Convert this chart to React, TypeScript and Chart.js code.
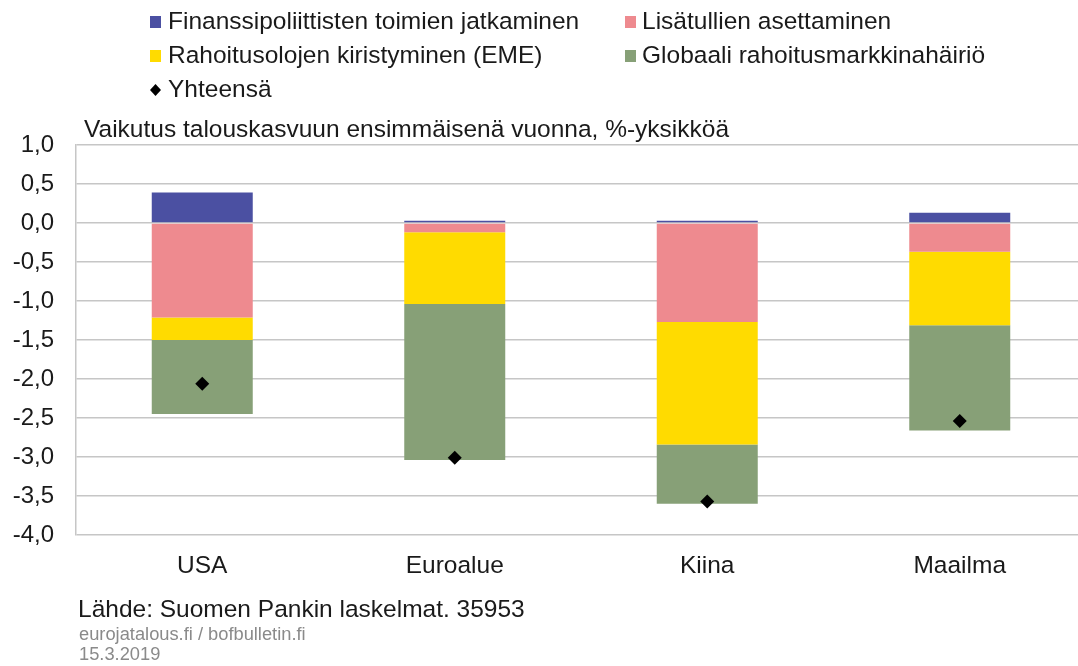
import React, { useEffect, useRef } from "react";
import { Chart, registerables } from "chart.js";

Chart.register(...registerables);

// ---- data ----
const categories = ["USA", "Euroalue", "Kiina", "Maailma"];
const fiscalPolicy = [0.39, 0.03, 0.03, 0.13];
const tariffs = [-1.21, -0.12, -1.27, -0.37];
const emeTightening = [-0.29, -0.92, -1.57, -0.94];
const globalShock = [-0.95, -2.0, -0.76, -1.35];
const totals = [-2.06, -3.01, -3.57, -2.54];

const seriesLabels = [
  "Finanssipoliittisten toimien jatkaminen",
  "Lisätullien asettaminen",
  "Rahoitusolojen kiristyminen (EME)",
  "Globaali rahoitusmarkkinahäiriö",
  "Yhteensä",
];

const subtitle = "Vaikutus talouskasvuun ensimmäisenä vuonna, %-yksikköä";
const sourceText = "Lähde: Suomen Pankin laskelmat. 35953";
const siteText = "eurojatalous.fi / bofbulletin.fi";
const dateText = "15.3.2019";

const FONT = '"Liberation Sans", Arial, Helvetica, sans-serif';
const TEXT = "#1a1a1a";
const GRID = "#c6c6c6";

const overlayPlugin = {
  id: "overlay",
  afterDraw(chart: any) {
    const ctx = chart.ctx as CanvasRenderingContext2D;
    ctx.save();
    ctx.textBaseline = "alphabetic";
    ctx.textAlign = "left";
    // legend: two columns, filled row-wise
    const markerX = [150, 625];
    const textX = [168, 642];
    const baseY = [29, 63, 97];
    chart.data.datasets.forEach((ds: any, i: number) => {
      const col = i % 2;
      const row = Math.floor(i / 2);
      const mx = markerX[col];
      const cy = baseY[row] - 7;
      if (ds.type === "line") {
        ctx.fillStyle = "#000";
        ctx.beginPath();
        ctx.moveTo(mx + 5.5, cy - 6);
        ctx.lineTo(mx + 11, cy);
        ctx.lineTo(mx + 5.5, cy + 6);
        ctx.lineTo(mx, cy);
        ctx.closePath();
        ctx.fill();
      } else {
        ctx.fillStyle = ds.backgroundColor;
        ctx.fillRect(mx, cy - 6, 11, 12);
      }
      ctx.fillStyle = TEXT;
      ctx.font = `24.5px ${FONT}`;
      ctx.fillText(ds.label, textX[col], baseY[row]);
    });
    // subtitle
    ctx.font = `24.5px ${FONT}`;
    ctx.fillStyle = TEXT;
    ctx.fillText(subtitle, 84, 137);
    // footer
    ctx.fillText(sourceText, 78, 617);
    ctx.font = `18.3px ${FONT}`;
    ctx.fillStyle = "#8a8a8a";
    ctx.fillText(siteText, 79, 640);
    ctx.fillText(dateText, 79, 660);
    ctx.restore();
  },
};

export default function App() {
  const canvasRef = useRef<HTMLCanvasElement | null>(null);

  useEffect(() => {
    if (!canvasRef.current) return;
    const barColors = ["#4b50a2", "#ee8a8f", "#ffdb00", "#87a077"];
    const barData = [fiscalPolicy, tariffs, emeTightening, globalShock];
    const chart = new Chart(canvasRef.current, {
      type: "bar",
      data: {
        labels: categories,
        datasets: [
          ...barData.map((d, i) => ({
            type: "bar" as const,
            label: seriesLabels[i],
            data: d,
            backgroundColor: barColors[i],
            borderWidth: 0,
            barPercentage: 0.4,
            categoryPercentage: 1,
            order: 1,
          })),
          {
            type: "line" as const,
            label: seriesLabels[4],
            data: totals,
            showLine: false,
            pointStyle: "rectRot",
            pointRadius: 7,
            pointBackgroundColor: "#000",
            pointBorderColor: "#000",
            pointBorderWidth: 0,
            backgroundColor: "#000",
            order: 0,
          },
        ],
      },
      options: {
        animation: false,
        responsive: false,
        devicePixelRatio: 1,
        layout: { autoPadding: false, padding: { top: 145, left: 0, right: 0, bottom: 0 } },
        plugins: {
          legend: { display: false },
          tooltip: { enabled: false },
          title: { display: false },
        },
        scales: {
          x: {
            stacked: true,
            grid: { display: false, drawTicks: false },
            border: { display: false },
            ticks: {
              color: TEXT,
              font: { family: FONT, size: 24.5 },
              padding: 17,
            },
            afterFit: (s: any) => {
              s.height = 131;
            },
          },
          y: {
            stacked: true,
            min: -4,
            max: 1,
            grid: { color: GRID, lineWidth: 1.5, drawTicks: false },
            border: { display: true, color: GRID, width: 1.5 },
            ticks: {
              stepSize: 0.5,
              color: TEXT,
              font: { family: FONT, size: 24 },
              padding: 22,
              callback: (v: any) => Number(v).toFixed(1).replace(".", ","),
            },
            afterFit: (s: any) => {
              s.width = 76;
            },
          },
        },
      },
      plugins: [overlayPlugin],
    });
    return () => chart.destroy();
  }, []);

  return (
    <div
      style={{
        position: "fixed",
        left: 0,
        top: 0,
        width: 1078,
        height: 666,
        overflow: "hidden",
        background: "#fff",
      }}
    >
      <canvas
        ref={canvasRef}
        width={1086}
        height={666}
        style={{ display: "block", width: 1086, height: 666 }}
      />
    </div>
  );
}
